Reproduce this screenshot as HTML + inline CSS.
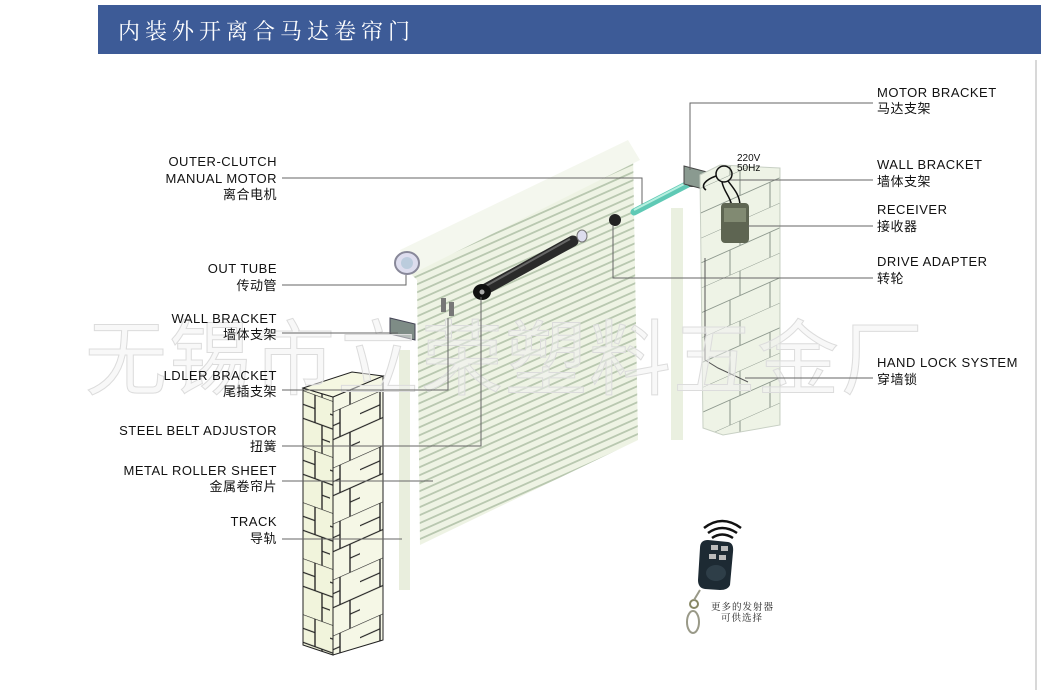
<!DOCTYPE html>
<html><head><meta charset="utf-8"><style>
html,body{margin:0;padding:0;background:#fff;width:1041px;height:690px;overflow:hidden}
svg{display:block}
.l{font-family:"Liberation Sans","Noto Sans CJK SC",sans-serif;font-size:13px;fill:#111;letter-spacing:0.5px}
.ln{stroke:#666;stroke-width:1;fill:none}
</style></head><body>
<svg width="1041" height="690" viewBox="0 0 1041 690" xmlns="http://www.w3.org/2000/svg">
<defs>
<pattern id="stripes" width="20" height="8" patternUnits="userSpaceOnUse" patternTransform="skewY(-24)">
<rect width="20" height="8" fill="#eef3e4"/>
<rect y="5" width="20" height="2" fill="#b9c8b0"/>
</pattern>
<pattern id="brickF" width="30" height="56" patternUnits="userSpaceOnUse" patternTransform="skewY(20)">
<rect width="30" height="56" fill="#f1f4dc"/>
<path d="M0 0H30M0 28H30M15 0V28M0 14H15M22 28V56M22 42H30" stroke="#222" stroke-width="1.3" fill="none"/>
</pattern>
<pattern id="brickS" width="40" height="56" patternUnits="userSpaceOnUse" patternTransform="skewY(-24)">
<rect width="40" height="56" fill="#f5f7e6"/>
<path d="M0 0H40M0 28H40M20 0V28M0 14H20M30 28V56M30 42H40" stroke="#222" stroke-width="1.3" fill="none"/>
</pattern>
<pattern id="brickR" width="40" height="50" patternUnits="userSpaceOnUse" patternTransform="skewY(-24)">
<rect width="40" height="50" fill="#eef3e6"/>
<path d="M0 0H40M0 25H40M20 0V25M10 25V50" stroke="#8f9a8f" stroke-width="1" fill="none"/>
</pattern>
</defs>

<rect x="98" y="5" width="943" height="49" fill="#3d5b97"/>
<text x="118" y="39" font-family="'Noto Serif CJK SC','Noto Sans CJK SC',sans-serif" font-size="22" fill="#fff" letter-spacing="5">内装外开离合马达卷帘门</text>
<line x1="1036" y1="60" x2="1036" y2="690" stroke="#d8d8d8" stroke-width="2"/>

<polygon points="405,268 633,152 638,440 420,545 417,280" fill="url(#stripes)"/>
<polygon points="400,250 628,140 640,160 410,275" fill="#f4f7ee"/>
<ellipse cx="407" cy="263" rx="12" ry="11" fill="#dde" stroke="#889" stroke-width="2"/>
<ellipse cx="407" cy="263" rx="6" ry="6" fill="#bcd"/>
<rect x="399" y="350" width="11" height="240" fill="#e9eedd"/>
<rect x="671" y="208" width="12" height="232" fill="#eaf0e0"/>
<polygon points="390,318 415,324 415,340 390,334" fill="#7e8c86" stroke="#445" stroke-width="1"/>
<rect x="441" y="298" width="5" height="14" fill="#777"/>
<rect x="449" y="302" width="5" height="14" fill="#777"/>
<line x1="482" y1="291" x2="573" y2="241" stroke="#2a2a2a" stroke-width="11" stroke-linecap="round"/>
<line x1="484" y1="287" x2="570" y2="239" stroke="#666" stroke-width="2"/>
<ellipse cx="482" cy="292" rx="9" ry="8" fill="#111"/>
<circle cx="482" cy="292" r="2.5" fill="#aaa"/>
<ellipse cx="582" cy="236" rx="5" ry="6" fill="#dde" stroke="#777"/>
<ellipse cx="615" cy="220" rx="6" ry="6" fill="#222"/>
<line x1="634" y1="212" x2="690" y2="183" stroke="#5fc9b5" stroke-width="7" stroke-linecap="round"/>
<line x1="634" y1="210" x2="690" y2="181" stroke="#b8f0e0" stroke-width="2"/>
<ellipse cx="692" cy="181" rx="6" ry="6" fill="#333"/>
<polygon points="684,166 707,172 707,190 684,184" fill="#8a9a90" stroke="#444"/>
<polygon points="700,175 720,165 780,168 780,425 723,435 703,428" fill="url(#brickR)" stroke="#c8d0c4"/>
<path d="M705,258 V360 L718,368 L748,382" stroke="#555" fill="none"/>
<circle cx="724" cy="174" r="8" fill="none" stroke="#111" stroke-width="1.5"/>
<path d="M716,176 C705,180 700,186 706,190 M728,181 C735,190 740,196 740,206 M722,182 C724,192 730,196 732,206" stroke="#111" stroke-width="1.5" fill="none"/>
<text x="737" y="161" font-family="Liberation Sans,sans-serif" font-size="10" fill="#111">220V</text>
<text x="737" y="171" font-family="Liberation Sans,sans-serif" font-size="10" fill="#111">50Hz</text>
<rect x="721" y="203" width="28" height="40" rx="4" fill="#5e6552"/>
<rect x="724" y="208" width="22" height="14" fill="#818a72"/>

<polygon points="303,388 333,397 333,655 303,645" fill="url(#brickF)" stroke="#222"/>
<polygon points="333,397 383,376 383,640 333,655" fill="url(#brickS)" stroke="#222"/>
<polygon points="303,388 352,372 383,376 333,397" fill="#f5f7e2" stroke="#222"/>

<text x="85" y="388" font-family="'Noto Sans CJK SC',sans-serif" font-size="82" fill="#f2f2f2" fill-opacity="0.5" stroke="#dcdcdc" stroke-width="1" letter-spacing="2">无锡市立荣塑料五金厂</text>

<polyline class="ln" points="282,178 642,178 642,204"/>
<polyline class="ln" points="282,285 406,285 406,275"/>
<polyline class="ln" points="282,333 398,333"/>
<polyline class="ln" points="282,390 448,390 448,318"/>
<polyline class="ln" points="282,446 481,446 481,297"/>
<polyline class="ln" points="282,481 433,481"/>
<polyline class="ln" points="282,539 402,539"/>
<polyline class="ln" points="873,103 690,103 690,170"/>
<polyline class="ln" points="873,180 730,180"/>
<polyline class="ln" points="873,226 748,226"/>
<polyline class="ln" points="873,278 613,278 613,226"/>
<polyline class="ln" points="873,378 745,378"/>

<g class="l" text-anchor="end">
<text x="277" y="166">OUTER-CLUTCH</text>
<text x="277" y="183">MANUAL MOTOR</text>
<text x="277" y="199">离合电机</text>
<text x="277" y="273">OUT TUBE</text>
<text x="277" y="290">传动管</text>
<text x="277" y="323">WALL BRACKET</text>
<text x="277" y="339">墙体支架</text>
<text x="277" y="380">LDLER BRACKET</text>
<text x="277" y="396">尾插支架</text>
<text x="277" y="435">STEEL BELT ADJUSTOR</text>
<text x="277" y="451">扭簧</text>
<text x="277" y="475">METAL ROLLER SHEET</text>
<text x="277" y="491">金属卷帘片</text>
<text x="277" y="526">TRACK</text>
<text x="277" y="543">导轨</text>
</g>
<g class="l">
<text x="877" y="97">MOTOR BRACKET</text>
<text x="877" y="113">马达支架</text>
<text x="877" y="169">WALL BRACKET</text>
<text x="877" y="186">墙体支架</text>
<text x="877" y="214">RECEIVER</text>
<text x="877" y="231">接收器</text>
<text x="877" y="266">DRIVE ADAPTER</text>
<text x="877" y="283">转轮</text>
<text x="877" y="367">HAND LOCK SYSTEM</text>
<text x="877" y="384">穿墙锁</text>
</g>

<path d="M704,528 Q722,514 741,528 M708,533 Q722,523 737,533 M712,538 Q722,531 733,538" stroke="#111" stroke-width="2.5" fill="none"/>
<path d="M700,548 Q700,540 708,540 L728,542 Q734,543 733,552 L730,585 Q728,590 720,590 L705,589 Q698,588 698,580 Z" fill="#1d2a33"/>
<rect x="711" y="545" width="7" height="5" fill="#bbb"/><rect x="721" y="546" width="7" height="5" fill="#bbb"/>
<rect x="709" y="554" width="7" height="5" fill="#bbb"/><rect x="719" y="555" width="7" height="5" fill="#bbb"/>
<ellipse cx="716" cy="573" rx="10" ry="8" fill="#2e3e48"/>
<circle cx="694" cy="604" r="4" fill="none" stroke="#886" stroke-width="2"/>
<ellipse cx="693" cy="622" rx="6" ry="11" fill="none" stroke="#998" stroke-width="2"/>
<line x1="700" y1="590" x2="694" y2="600" stroke="#998" stroke-width="2"/>
<text x="711" y="610" font-family="'Noto Serif CJK SC',serif" font-size="9.5" fill="#222" letter-spacing="1">更多的发射器</text>
<text x="721" y="621" font-family="'Noto Serif CJK SC',serif" font-size="9.5" fill="#222" letter-spacing="1">可供选择</text>
</svg>
</body></html>
